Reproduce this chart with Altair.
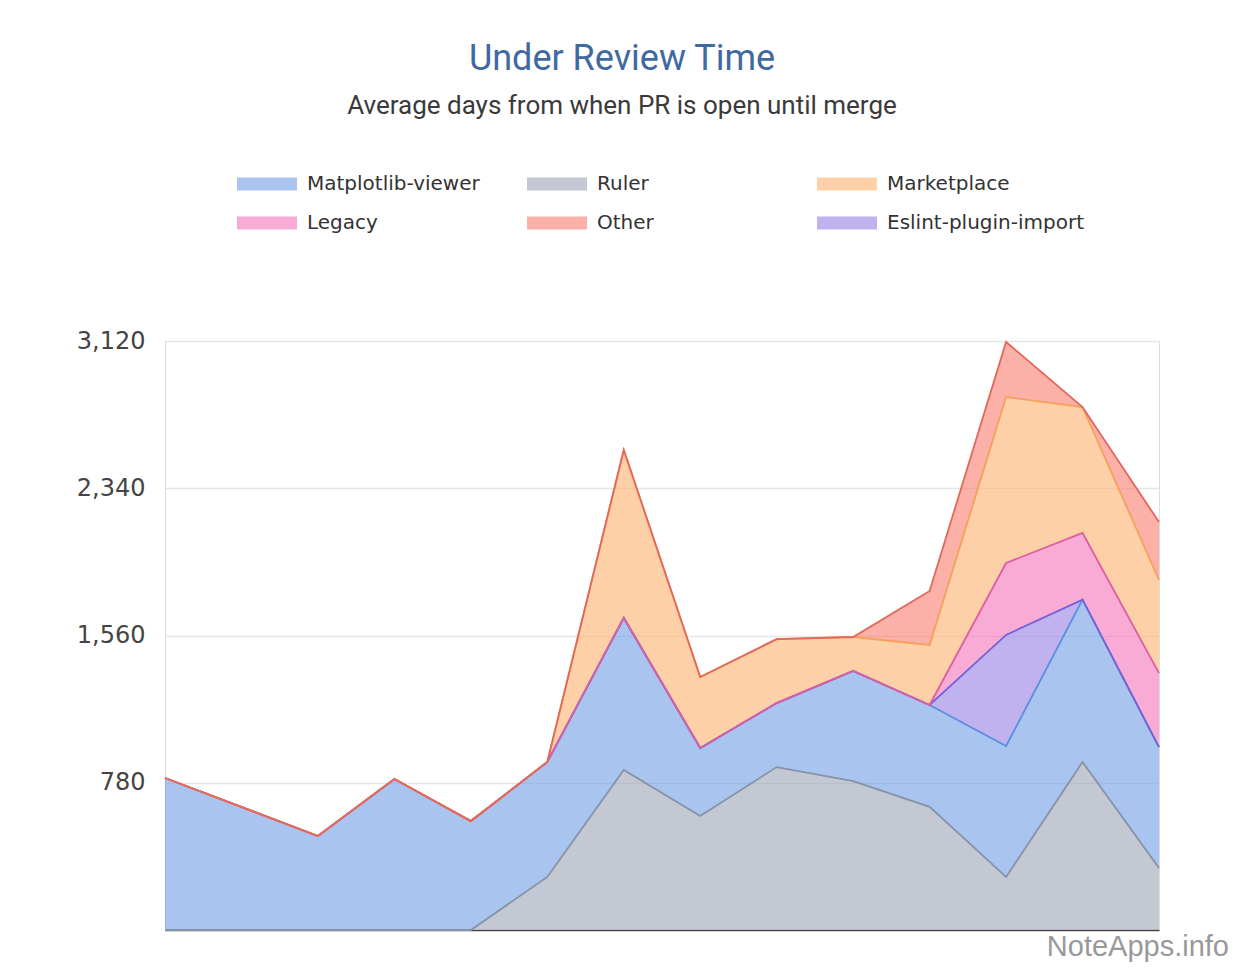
import altair as alt
import pandas as pd

# x positions (index of period); period 1 has no data point
x_idx = [0, 2, 3, 4, 5, 6, 7, 8, 9, 10, 11, 12, 13]

# values per series
ruler      = [0, 0, 0, 0, 281, 848, 604, 863, 789, 652, 281, 890, 328]
matplotlib = [805, 498, 800, 577, 609, 805, 360, 339, 583, 540, 694, 860, 641]
eslint     = [0, 0, 0, 0, 0, 0, 0, 0, 0, 0, 588, 0, 0]
legacy     = [0, 0, 0, 0, 0, 0, 0, 0, 0, 0, 381, 353, 392]
market     = [0, 0, 0, 0, 0, 890, 376, 339, 180, 318, 879, 667, 493]
other      = [0, 0, 0, 0, 0, 0, 0, 0, 0, 286, 292, 0, 307]

# stacking order, bottom to top
stack_names = ["Ruler", "Matplotlib-viewer", "Eslint-plugin-import", "Legacy", "Marketplace", "Other"]
stack_vals = [ruler, matplotlib, eslint, legacy, market, other]

# legend order
legend_order = ["Matplotlib-viewer", "Ruler", "Marketplace", "Legacy", "Other", "Eslint-plugin-import"]
fill_colors = ["#709de4", "#9ba3b6", "#fdb16e", "#f273b9", "#f87b6e", "#947fe3"]
line_colors = ["#5b8ee0", "#8592a8", "#f6a05c", "#de5fa0", "#e3675a", "#7560d6"]

y_ticks = [780, 1560, 2340, 3120]

rows = []
for rank, (name, vals) in enumerate(zip(stack_names, stack_vals)):
    for xi, v in zip(x_idx, vals):
        rows.append({"series": name, "rank": rank, "x": xi, "value": v})
df = pd.DataFrame(rows)

W, H = 994, 589

base = alt.Chart(df).transform_stack(
    stack="value",
    groupby=["x"],
    as_=["y0", "y1"],
    sort=[alt.SortField("rank", order="ascending")],
)

xenc = alt.X("x:Q", scale=alt.Scale(domain=[0, 13], nice=False, zero=False),
             axis=alt.Axis(labels=False, ticks=False, grid=False, title=None,
                           domainColor="#444444", domainWidth=1.6))
yscale = alt.Scale(domain=[0, 3120], nice=False)

area = base.mark_area(opacity=0.6).encode(
    x=xenc,
    y=alt.Y("y1:Q", scale=yscale,
            axis=alt.Axis(values=y_ticks, format=",.0f", title=None, ticks=False, domain=False,
                          grid=True, gridColor="#e6e6e6", gridWidth=1.5,
                          labelFontSize=24, labelColor="#444444", labelPadding=20,
                          labelFont="DejaVu Sans")),
    y2="y0:Q",
    fill=alt.Fill("series:N", scale=alt.Scale(domain=legend_order, range=fill_colors),
                  legend=alt.Legend(
                      title=None, orient="none", legendX=72, legendY=-172,
                      direction="horizontal",
                      columns=3, gridAlign="all", columnPadding=22, rowPadding=14,
                      symbolType="M-1,-0.44H3V0.44H-1Z", symbolSize=900,
                      symbolOpacity=0.6, symbolStrokeWidth=0,
                      labelFontSize=20, labelFont="DejaVu Sans", labelColor="#333333",
                      labelOffset=40, labelLimit=400, padding=0)),
)

line = base.mark_line(strokeWidth=1.8).encode(
    x=xenc,
    y=alt.Y("y1:Q", scale=yscale),
    stroke=alt.Stroke("series:N", scale=alt.Scale(domain=legend_order, range=line_colors), legend=None),
)

mark_df = pd.DataFrame({"t": ["NoteApps.info"]})
watermark = alt.Chart(mark_df).mark_text(
    align="right", baseline="alphabetic", fontSize=29, font="Liberation Sans", color="#999999"
).encode(text="t:N", x=alt.value(1064), y=alt.value(615))

chart = alt.layer(area, line, watermark).properties(
    width=W, height=H,
    title=alt.TitleParams(
        text="Under Review Time",
        subtitle="Average days from when PR is open until merge",
        anchor="middle", dx=-40, offset=49,
        font="Roboto", fontSize=36, fontWeight="normal", color="#40699f",
        subtitleFont="Roboto", subtitleFontSize=26, subtitleColor="#3a3a3a",
        subtitlePadding=15,
    ),
    autosize=alt.AutoSizeParams(type="none"),
    padding={"left": 157, "top": 333, "right": 72, "bottom": 34},
).configure_view(stroke="transparent", strokeWidth=0).configure(background="white")

chart.save("out.html", embed_options={"renderer": "svg", "actions": False})
